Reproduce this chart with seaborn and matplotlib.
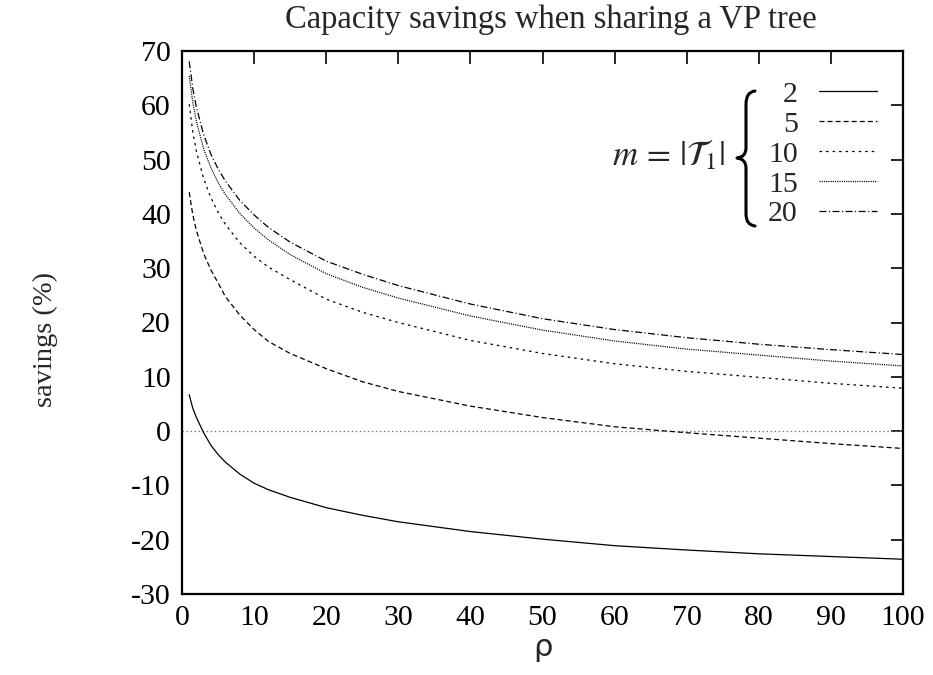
import matplotlib
matplotlib.use("Agg")
import matplotlib.pyplot as plt
from matplotlib.path import Path
from matplotlib.patches import PathPatch
import numpy as np
import pandas as pd
import seaborn as sns

# ---- data ----
rho = [1, 1.5, 2, 3, 4, 5, 6, 8, 10, 12, 15, 20, 25, 30, 40, 50, 60, 70, 80, 90, 100]
s_m2 = [6.7, 4.2, 2.5, -0.3, -2.6, -4.3, -5.7, -7.9, -9.6, -10.8, -12.2, -14.1, -15.5, -16.7,
        -18.5, -19.9, -21.1, -21.9, -22.6, -23.1, -23.6]
s_m5 = [44.0, 39.8, 36.9, 32.7, 29.7, 27.3, 24.8, 21.4, 18.7, 16.5, 14.3, 11.5, 9.1, 7.3,
        4.6, 2.5, 0.8, -0.3, -1.3, -2.3, -3.2]
s_m10 = [60.2, 55.1, 51.5, 46.5, 43.0, 40.3, 38.1, 34.7, 32.2, 30.2, 27.9, 24.3, 21.9, 20.0,
         16.7, 14.3, 12.4, 11.0, 9.9, 8.8, 7.9]
s_m15 = [65.4, 60.5, 57.0, 52.0, 48.5, 45.8, 43.6, 40.1, 37.4, 35.2, 32.5, 29.0, 26.5, 24.5,
         21.2, 18.6, 16.6, 15.1, 14.0, 12.9, 12.0]
s_m20 = [68.1, 63.1, 59.6, 54.6, 51.0, 48.3, 46.1, 42.5, 39.8, 37.5, 34.8, 31.3, 28.9, 26.8,
         23.4, 20.7, 18.7, 17.2, 16.0, 15.0, 14.1]
m_levels = ["2", "5", "10", "15", "20"]
x_ticks = [0, 10, 20, 30, 40, 50, 60, 70, 80, 90, 100]
y_ticks = [-30, -20, -10, 0, 10, 20, 30, 40, 50, 60, 70]

series = {"2": s_m2, "5": s_m5, "10": s_m10, "15": s_m15, "20": s_m20}
df = pd.DataFrame([(r, v, m) for m in m_levels for r, v in zip(rho, series[m])],
                  columns=["rho", "savings", "m"])

# ---- style ----
sns.set_theme(style="white")
plt.rcParams["font.family"] = ["Liberation Serif", "DejaVu Serif"]
plt.rcParams["mathtext.fontset"] = "stix"
plt.rcParams["axes.unicode_minus"] = False
plt.rcParams["lines.scale_dashes"] = False

W, H = 933, 675
fig = plt.figure(figsize=(W / 100, H / 100), dpi=100)
L, R, T, B = 182, 903, 51, 594
ax = fig.add_axes([L / W, 1 - B / H, (R - L) / W, (B - T) / H])

dashes = {"2": "", "5": (3.6, 2.2), "10": (1.8, 2.9), "15": (0.8, 0.8),
          "20": (5.0, 1.8, 0.8, 1.8)}
ax.axhline(0, color="#777777", lw=0.9, dashes=(1.1, 1.8), zorder=1)
sns.lineplot(data=df, x="rho", y="savings", style="m", style_order=m_levels,
             dashes=dashes, color="black", lw=0.9, ax=ax, legend="full")

leg0 = ax.get_legend()
handles = list(leg0.legend_handles)
labels = [t.get_text() for t in leg0.get_texts()]
leg0.remove()
leg = ax.legend(handles, labels, markerfirst=False, frameon=False,
                loc="upper right", bbox_to_anchor=(877 / W, 1 - 81 / H),
                bbox_transform=fig.transFigure, borderaxespad=0, borderpad=0,
                fontsize=21.5, handlelength=1.95, handletextpad=0.7, labelspacing=0.1)

ax.set_xlim(0, 100)
ax.set_ylim(-30, 70)
ax.set_xticks(x_ticks)
ax.set_yticks(y_ticks)
ax.set_xticklabels([str(v) for v in x_ticks])
ax.set_yticklabels([str(v) for v in y_ticks])
ax.tick_params(direction="in", length=9, width=1.2, top=True, right=True,
               labelsize=21.5, pad=8, colors="black")
for s in ax.spines.values():
    s.set_color("black")
    s.set_linewidth(1.6)
ax.set_xlabel("")
ax.set_ylabel("")

fig.text(543 / W, 1 - 648 / H, "ρ", family="DejaVu Sans", fontsize=22,
         ha="center", va="center")
fig.text(45 / W, 1 - 340 / H, "savings (%)", fontsize=20.5, rotation=90,
         ha="center", va="center")
fig.text(551 / W, 1 - 20 / H, "Capacity savings when sharing a VP tree", fontsize=23.5,
         ha="center", va="center")

# legend annotation
fig.text(725 / W, 1 - 156 / H, r"$m\,=\,|\mathcal{T}_1|$", fontsize=25, ha="right", va="center")

def P(x, y):
    return (x / W, 1 - y / H)

verts = [P(755, 91), P(746, 92), P(746, 104), P(746, 148), P(746, 157), P(737, 158),
         P(746, 159), P(746, 168), P(746, 214), P(746, 225), P(755, 226)]
codes = [Path.MOVETO, Path.CURVE3, Path.CURVE3, Path.LINETO, Path.CURVE3, Path.CURVE3,
         Path.CURVE3, Path.CURVE3, Path.LINETO, Path.CURVE3, Path.CURVE3]
brace = PathPatch(Path(verts, codes), transform=fig.transFigure, fill=False,
                  lw=2.2, edgecolor="black", capstyle="round", joinstyle="round")
fig.patches.append(brace)

fig.savefig("out.png", dpi=100)
